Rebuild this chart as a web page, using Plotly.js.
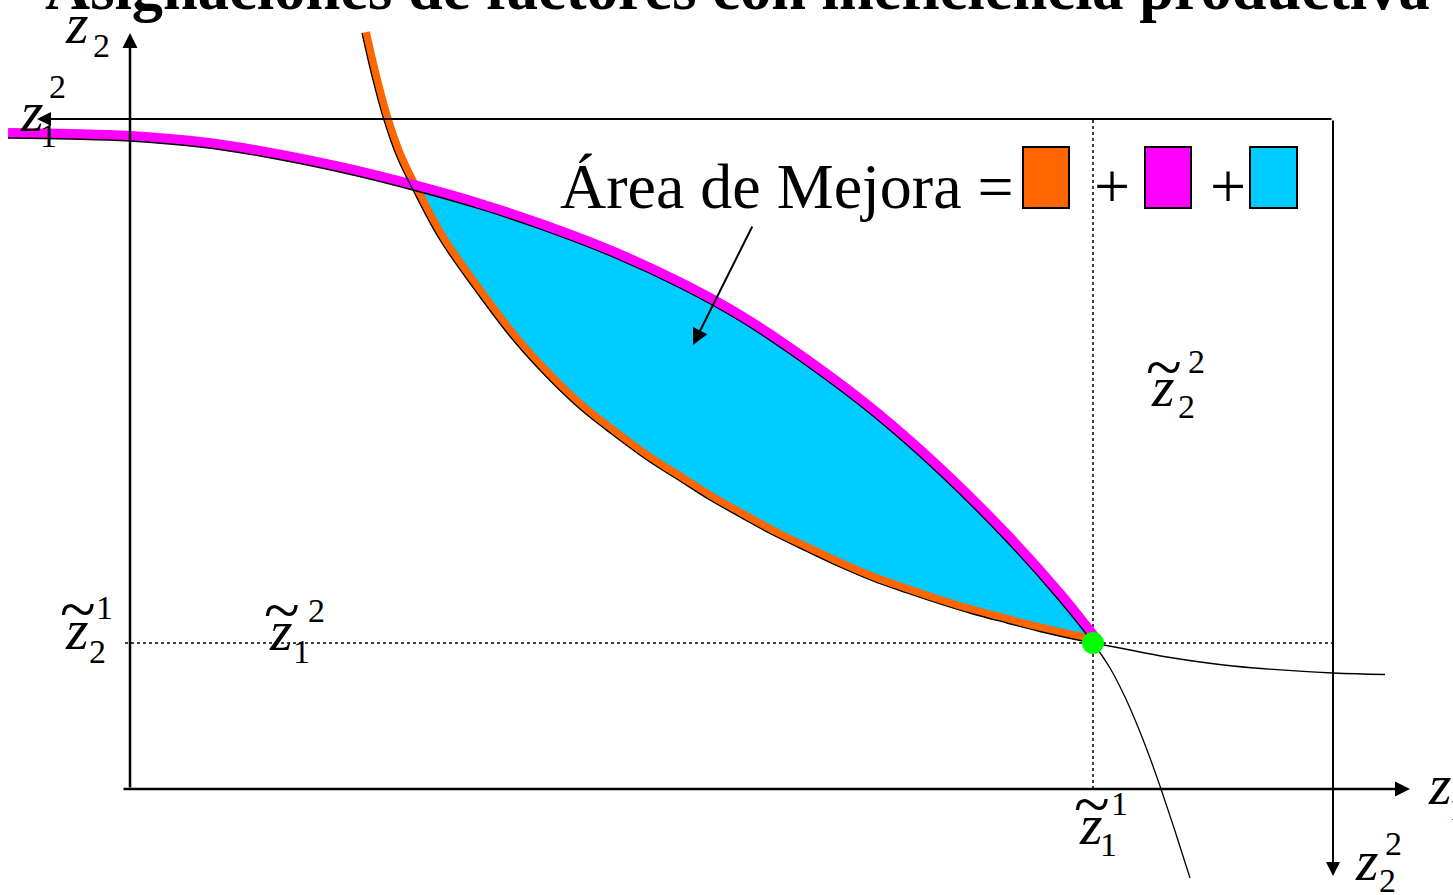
<!DOCTYPE html>
<html>
<head>
<meta charset="utf-8">
<script src="https://cdn.plot.ly/plotly-3.0.1.min.js"></script>
<style>html,body{margin:0;padding:0;background:#fff;}#chart{width:1453px;height:895px;}</style>
</head>
<body>
<div id="chart"></div>
<script>
// ---- Data (units of factor z1 / z2, firm-1 origin at bottom-left) ----
// Firm 1 isoquant through the endowment (convex towards O1)
const curve1_z1 = [2.32, 2.42, 2.53, 2.67, 2.83, 3.10, 3.50, 3.83, 4.17, 4.50, 4.83, 5.17, 5.50, 5.80, 6.10, 6.43, 6.77, 7.10, 7.43, 7.77, 8.10, 8.43, 8.77, 9.10, 9.43, 9.63, 9.90, 10.37, 11.03, 12.03, 12.55];
const curve1_z2 = [7.56, 7.13, 6.72, 6.32, 5.99, 5.49, 4.92, 4.49, 4.115, 3.80, 3.54, 3.29, 3.08, 2.89, 2.72, 2.54, 2.375, 2.22, 2.08, 1.96, 1.85, 1.75, 1.66, 1.575, 1.50, 1.46, 1.41, 1.32, 1.23, 1.16, 1.145];
// Firm 2 isoquant through the endowment (convex towards O2)
const curve2_z1 = [-1.22, -0.60, 0.00, 0.70, 1.30, 2.10, 2.83, 3.50, 4.10, 4.83, 5.50, 6.10, 6.77, 7.43, 8.10, 8.77, 9.27, 9.63, 9.80, 9.95, 10.08, 10.20, 10.31, 10.45, 10.60];
const curve2_z2 = [6.51, 6.50, 6.48, 6.42, 6.33, 6.17, 5.99, 5.80, 5.60, 5.32, 5.01, 4.68, 4.23, 3.73, 3.14, 2.47, 1.91, 1.46, 1.21, 0.92, 0.62, 0.31, 0.00, -0.42, -0.89];
// Endowment point (z~1^1, z~2^1)
const endow_z1 = [9.63];
const endow_z2 = [1.46];
// Intersection of the two isoquants (left tip of the lens)
const cross_z1 = 2.83, cross_z2 = 5.99;
// Box dimensions (total factor endowments)
const total_z1 = 12.03, total_z2 = 6.70;

const titleText = 'Asignaciones de factores con ineficiencia productiva';
const areaText = 'Área de Mejora =';

// ---- helpers ----
const W = 1453, H = 895;
const PX = p => (p - 130) / 100;   // pixel -> data (layout placement only)
const PY = p => (789 - p) / 100;
const idx = (xs, ys, x, y) => xs.findIndex((v, i) => Math.abs(v - x) < 1e-9 && Math.abs(ys[i] - y) < 1e-9);
function offsetCurve(xs, ys, d) {
  const n = xs.length, ox = [], oy = [];
  for (let i = 0; i < n; i++) {
    const i0 = Math.max(i - 1, 0), i1 = Math.min(i + 1, n - 1);
    const dx = xs[i1] - xs[i0], dy = ys[i1] - ys[i0], L = Math.hypot(dx, dy);
    ox.push(xs[i] + (-dy / L) * d); oy.push(ys[i] + (dx / L) * d);
  }
  return [ox, oy];
}

const e1 = idx(curve1_z1, curve1_z2, endow_z1[0], endow_z2[0]);
const e2 = idx(curve2_z1, curve2_z2, endow_z1[0], endow_z2[0]);
const c1 = idx(curve1_z1, curve1_z2, cross_z1, cross_z2);
const c2 = idx(curve2_z1, curve2_z2, cross_z1, cross_z2);

const [orX, orY] = offsetCurve(curve1_z1.slice(0, e1 + 1), curve1_z2.slice(0, e1 + 1), 0.04);
const [mgX, mgY] = offsetCurve(curve2_z1.slice(0, e2 + 1), curve2_z2.slice(0, e2 + 1), 0.05);

const SERIF = 'Liberation Serif, Times New Roman, serif';
const traces = [
  // lens: lower edge (firm 1 isoquant) then fill up to the upper edge (firm 2 isoquant)
  {x: curve1_z1.slice(c1, e1 + 1), y: curve1_z2.slice(c1, e1 + 1), mode: 'lines', line: {width: 0, shape: 'spline', color: '#00CCFF'}, hoverinfo: 'skip'},
  {x: curve2_z1.slice(c2, e2 + 1), y: curve2_z2.slice(c2, e2 + 1), mode: 'lines', fill: 'tonexty', fillcolor: '#00CCFF', line: {width: 0, shape: 'spline', color: '#00CCFF'}, hoverinfo: 'skip'},
  {x: orX, y: orY, mode: 'lines', line: {color: '#FF6600', width: 8, shape: 'spline'}, hoverinfo: 'skip'},
  {x: mgX, y: mgY, mode: 'lines', line: {color: '#FF00FF', width: 10, shape: 'spline'}, hoverinfo: 'skip'},
  {x: curve1_z1, y: curve1_z2, mode: 'lines', line: {color: '#000', width: 1.3, shape: 'spline'}, hoverinfo: 'skip'},
  {x: curve2_z1, y: curve2_z2, mode: 'lines', line: {color: '#000', width: 1.3, shape: 'spline'}, hoverinfo: 'skip'},
  {x: endow_z1, y: endow_z2, mode: 'markers', marker: {color: '#00FF00', size: 22, line: {width: 0}}, hoverinfo: 'skip'}
];

const shapes = [
  // dotted guide lines through the endowment
  {type: 'line', x0: endow_z1[0], x1: endow_z1[0], y0: 0, y1: total_z2, line: {color: '#000', width: 1.5, dash: 'dot'}, layer: 'below'},
  {type: 'line', x0: PX(125), x1: PX(1336), y0: endow_z2[0], y1: endow_z2[0], line: {color: '#000', width: 1.5, dash: 'dot'}, layer: 'below'},
  // legend boxes
  {type: 'rect', x0: PX(1023), x1: PX(1069), y0: PY(208), y1: PY(147), fillcolor: '#FF6600', line: {color: '#000', width: 2}},
  {type: 'rect', x0: PX(1145), x1: PX(1191), y0: PY(208), y1: PY(147), fillcolor: '#FF00FF', line: {color: '#000', width: 2}},
  {type: 'rect', x0: PX(1250), x1: PX(1297), y0: PY(208), y1: PY(147), fillcolor: '#00CCFF', line: {color: '#000', width: 2}}
];

function arrow(x, y, ax, ay, w, s) {
  return {x: x, y: y, ax: ax, ay: ay, xref: 'x', yref: 'y', axref: 'x', ayref: 'y', text: '', showarrow: true,
          arrowhead: 2, arrowsize: s, arrowwidth: w, arrowcolor: '#000', standoff: 0, startstandoff: 0};
}
function lab(text, px, py, size, extra) {
  return Object.assign({x: px / W, y: 1 - py / H, xref: 'paper', yref: 'paper', text: text, showarrow: false,
          xanchor: 'center', yanchor: 'middle', font: {family: SERIF, size: size, color: '#000'}}, extra || {});
}
const ZS = 58, DS = 34, ZSH = 6;
// z with a wide tilde drawn above it
function ztilde(cx, cy) {
  return [lab('<i>z</i>', cx, cy + 8 - ZSH, ZS), lab('~', cx + 1, cy - 19, 66)];
}
const annotations = [
  // axes of firm 1
  arrow(0, PY(33), 0, 0, 2.5, 1.2),
  arrow(PX(1410), 0, PX(122), 0, 2.5, 1.2),
  // axes of firm 2 (box top and right)
  arrow(PX(37), total_z2, total_z1, total_z2, 2, 1.4),
  arrow(total_z1, PY(876), total_z1, total_z2, 2, 1.4),
  // pointer to lens
  arrow(PX(693), PY(345), PX(753), PY(225), 2, 1.6),
  // title
  lab('<b>' + titleText + '</b>', 737, -12, 62.5),
  // area text
  lab(areaText, 558, 186, 64, {xanchor: 'left'}),
  lab('+', 1112, 186, 64),
  lab('+', 1228, 186, 64),
  // axis labels
  lab('<i>z</i>', 77, 29 - ZSH, ZS), lab('2', 101, 45, DS),
  lab('<i>z</i>', 32, 117 - ZSH, ZS), lab('2', 57, 87, DS), lab('1', 49, 135, DS),
  lab('<i>z</i>', 1440, 790 - ZSH, ZS), lab('1', 1457, 808, DS),
  lab('<i>z</i>', 1367, 866 - ZSH, ZS), lab('2', 1393, 843, DS), lab('2', 1387, 880, DS),
  // tilde labels
  ...ztilde(77, 627), lab('1', 104, 607, DS), lab('2', 98, 651, DS),
  ...ztilde(281, 628), lab('2', 316, 610, DS), lab('1', 301, 651, DS),
  ...ztilde(1163, 385), lab('2', 1196, 361, DS), lab('2', 1186, 406, DS),
  ...ztilde(1091, 822), lab('1', 1119, 803, DS), lab('1', 1108, 844, DS)
];

const layout = {
  width: W, height: H,
  margin: {l: 0, r: 0, t: 0, b: 0},
  paper_bgcolor: '#fff', plot_bgcolor: '#fff',
  showlegend: false, hovermode: false,
  xaxis: {range: [PX(0), PX(W)], visible: false, fixedrange: true},
  yaxis: {range: [PY(H), PY(0)], visible: false, fixedrange: true},
  shapes: shapes, annotations: annotations
};
Plotly.newPlot('chart', traces, layout, {staticPlot: true, displayModeBar: false});
</script>
</body>
</html>
